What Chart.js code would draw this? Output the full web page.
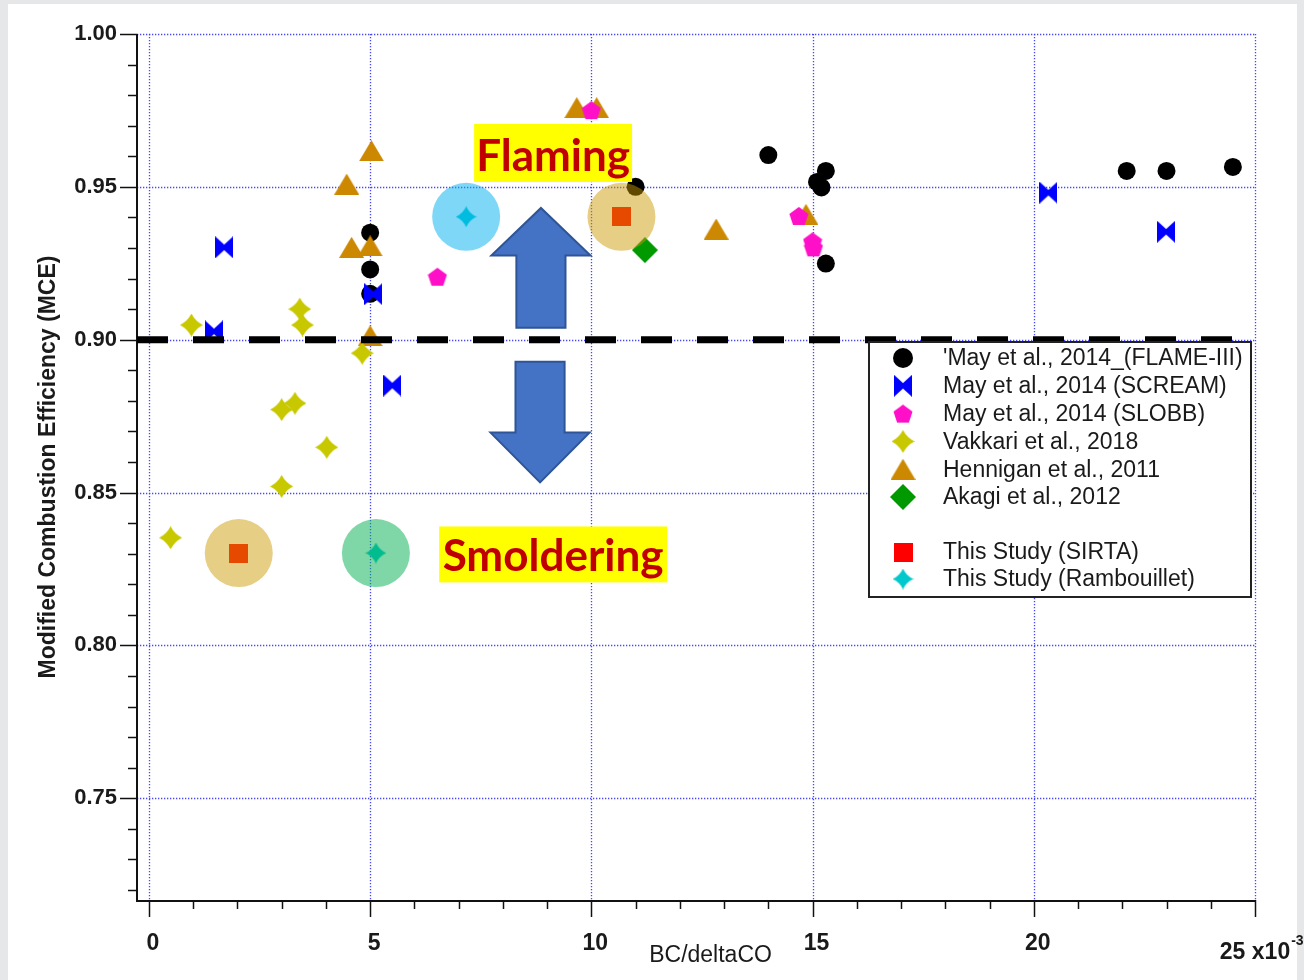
<!DOCTYPE html>
<html>
<head>
<meta charset="utf-8">
<title>MCE vs BC/deltaCO</title>
<script src="https://cdn.jsdelivr.net/npm/chart.js@4.4.1/dist/chart.umd.min.js"></script>
<style>
  html, body { margin: 0; padding: 0; background: #e6e7e9; }
  canvas { display: block; }
</style>
</head>
<body>
<canvas id="chart" width="1304" height="980"></canvas>
<script>
// ---- axis ranges and tick labels ----
const xMin = -0.27, xMax = 25;
const yMin = 0.7167, yMax = 1.0;
const xTickValues = [0, 5, 10, 15, 20, 25];
const yTickValues = [0.75, 0.80, 0.85, 0.90, 0.95, 1.00];

// ---- series (BC/deltaCO in units of 1e-3, MCE) ----
const flameX = [5.0, 5.0, 5.0, 11.0, 14.0, 15.3, 15.1, 15.2, 15.3, 22.1, 23.0, 24.5];
const flameY = [0.935, 0.923, 0.915, 0.950, 0.9604, 0.9552, 0.9516, 0.9498, 0.9249, 0.9552, 0.9552, 0.9565];

const screamX = [1.70, 1.47, 5.07, 5.50, 20.33, 22.99];
const screamY = [0.9302, 0.9027, 0.9149, 0.8850, 0.9481, 0.9353];

const slobbX = [10.0, 6.52, 14.69, 15.0, 15.02];
const slobbY = [0.9751, 0.9206, 0.9405, 0.9322, 0.9302];

const vakkariX = [0.49, 0.96, 3.41, 3.47, 3.0, 3.30, 4.02, 3.0, 4.82];
const vakkariY = [0.8352, 0.9048, 0.9100, 0.9048, 0.8771, 0.8792, 0.8648, 0.8520, 0.8956];

const henniganX = [9.67, 10.12, 5.03, 4.47, 4.58, 5.0, 5.0, 12.82, 14.85];
const henniganY = [0.9759, 0.9759, 0.9618, 0.9509, 0.9302, 0.9307, 0.9013, 0.9362, 0.9410];

const akagiX = [11.21];
const akagiY = [0.9293];

const sirtaX = [10.68, 2.03];
const sirtaY = [0.9402, 0.8302];

const rambouilletX = [7.17, 5.13];
const rambouilletY = [0.9402, 0.8302];

// flaming / smoldering threshold
const thresholdX = [-0.27, 24.5];
const thresholdY = 0.90;

const legendLabels = [
  "'May et al., 2014_(FLAME-III)",
  'May et al., 2014 (SCREAM)',
  'May et al., 2014 (SLOBB)',
  'Vakkari et al., 2018',
  'Hennigan et al., 2011',
  'Akagi et al., 2012',
  'This Study (SIRTA)',
  'This Study (Rambouillet)'
];

const pts = (xs, ys) => xs.map((x, i) => ({ x: x, y: ys[i] }));

// ---- marker shapes ----
function markerCanvas(w, h, paint) {
  const c = document.createElement('canvas');
  c.width = w; c.height = h;
  paint(c.getContext('2d'), w, h);
  return c;
}
function bowtie(color, w, h) {
  return markerCanvas(w, h, (g) => {
    g.fillStyle = color;
    g.beginPath();
    g.moveTo(0, 0); g.lineTo(w / 2, h * 0.38); g.lineTo(w, 0);
    g.lineTo(w, h); g.lineTo(w / 2, h * 0.62); g.lineTo(0, h);
    g.closePath(); g.fill();
  });
}
function star4(color, s, k) {
  return markerCanvas(s, s, (g) => {
    const c = s / 2, d = s * k;
    g.fillStyle = color;
    g.beginPath();
    g.moveTo(c, 0);
    g.quadraticCurveTo(c + d, c - d, s, c);
    g.quadraticCurveTo(c + d, c + d, c, s);
    g.quadraticCurveTo(c - d, c + d, 0, c);
    g.quadraticCurveTo(c - d, c - d, c, 0);
    g.closePath(); g.fill();
  });
}
function pentagon(color, s) {
  return markerCanvas(s, s, (g) => {
    const r = s / 2, cx = s / 2, cy = s / 2 + 1;
    g.fillStyle = color;
    g.beginPath();
    for (let i = 0; i < 5; i++) {
      const a = -Math.PI / 2 + i * 2 * Math.PI / 5;
      const px = cx + r * Math.cos(a), py = cy + r * Math.sin(a);
      if (i === 0) g.moveTo(px, py); else g.lineTo(px, py);
    }
    g.closePath(); g.fill();
  });
}
function triangle(color, w, h) {
  return markerCanvas(w, h, (g) => {
    g.fillStyle = color;
    g.beginPath();
    g.moveTo(w / 2, 0); g.lineTo(w, h); g.lineTo(0, h);
    g.closePath(); g.fill();
  });
}
function diamond(color, s) {
  return markerCanvas(s, s, (g) => {
    g.fillStyle = color;
    g.beginPath();
    g.moveTo(s / 2, 0); g.lineTo(s, s / 2); g.lineTo(s / 2, s); g.lineTo(0, s / 2);
    g.closePath(); g.fill();
  });
}
function square(color, s) {
  return markerCanvas(s, s, (g) => { g.fillStyle = color; g.fillRect(0, 0, s, s); });
}

const COLORS = {
  flame: '#000000', scream: '#0000ff', slobb: '#ff10c8', vakkari: '#c8c800',
  hennigan: '#cc8800', akagi: '#009a00', sirta: '#ff0000', ramb: '#00c8cc'
};

const mk = {
  scream: bowtie(COLORS.scream, 18, 22),
  slobb: pentagon(COLORS.slobb, 20),
  vakkari: star4(COLORS.vakkari, 23, 0.17),
  hennigan: triangle(COLORS.hennigan, 25, 21),
  akagi: diamond(COLORS.akagi, 26),
  sirta: square(COLORS.sirta, 19),
  ramb: star4(COLORS.ramb, 21, 0.15)
};

const haloColors = ['rgba(202,152,0,0.48)', 'rgba(202,152,0,0.48)', 'rgba(0,176,240,0.5)', 'rgba(0,176,80,0.5)'];

// ---- drawing helpers (plugins) ----
const FONT = '"Liberation Sans", Arial, Helvetica, sans-serif';

const pagePlugin = {
  id: 'page',
  beforeDraw(chart) {
    const ctx = chart.ctx;
    ctx.save();
    ctx.fillStyle = '#e6e7e9';
    ctx.fillRect(0, 0, chart.width, chart.height);
    ctx.fillStyle = '#ffffff';
    ctx.fillRect(8, 4, chart.width - 15, chart.height - 4);
    ctx.restore();
  }
};

const axesPlugin = {
  id: 'axesFrame',
  beforeDatasetsDraw(chart) {
    const ctx = chart.ctx, xs = chart.scales.x, ys = chart.scales.y, a = chart.chartArea;
    ctx.save();
    // dotted grid
    ctx.strokeStyle = 'rgba(60,60,255,0.95)';
    ctx.lineWidth = 1.3;
    ctx.setLineDash([1.3, 1.7]);
    xTickValues.forEach(v => {
      const px = Math.round(xs.getPixelForValue(v)) + 0.5;
      ctx.beginPath(); ctx.moveTo(px, a.top); ctx.lineTo(px, a.bottom); ctx.stroke();
    });
    yTickValues.forEach(v => {
      const py = Math.round(ys.getPixelForValue(v)) + 0.5;
      ctx.beginPath(); ctx.moveTo(a.left, py); ctx.lineTo(a.right, py); ctx.stroke();
    });
    ctx.setLineDash([]);
    // axis lines
    ctx.strokeStyle = '#111';
    ctx.lineWidth = 2;
    ctx.beginPath();
    ctx.moveTo(a.left, a.top); ctx.lineTo(a.left, a.bottom + 1); ctx.lineTo(a.right, a.bottom + 1);
    ctx.stroke();
    // tick marks: majors longer than minors
    ctx.lineWidth = 1.5;
    for (let k = 72; k <= 100; k++) {
      const py = Math.round(ys.getPixelForValue(k / 100)) + 0.5;
      const len = k % 5 === 0 ? 17 : 9;
      ctx.beginPath(); ctx.moveTo(a.left - len, py); ctx.lineTo(a.left, py); ctx.stroke();
    }
    for (let k = 0; k <= 25; k++) {
      const px = Math.round(xs.getPixelForValue(k)) + 0.5;
      const len = k % 5 === 0 ? 17 : 9;
      ctx.beginPath(); ctx.moveTo(px, a.bottom); ctx.lineTo(px, a.bottom + len); ctx.stroke();
    }
    ctx.restore();
  }
};

// flaming / smoldering annotations
const arrows = [
  { x: 8.86, from: 0.9039, neck: 0.9275, to: 0.9431 },
  { x: 8.84, from: 0.8928, neck: 0.8696, to: 0.8533 }
];
const arrowShaftHalf = 0.555, arrowHeadHalf = 1.12;
const boxes = [
  { text: 'Flaming', x0: 7.35, x1: 10.92, y0: 0.9516, y1: 0.9706 },
  { text: 'Smoldering', x0: 6.56, x1: 11.71, y0: 0.8206, y1: 0.8389 }
];

const annotationPlugin = {
  id: 'annotations',
  afterDatasetsDraw(chart) {
    const ctx = chart.ctx, xs = chart.scales.x, ys = chart.scales.y;
    ctx.save();
    arrows.forEach(ar => {
      const cx = xs.getPixelForValue(ar.x);
      const sh = xs.getPixelForValue(ar.x + arrowShaftHalf) - cx;
      const hh = xs.getPixelForValue(ar.x + arrowHeadHalf) - cx;
      const yF = ys.getPixelForValue(ar.from), yN = ys.getPixelForValue(ar.neck), yT = ys.getPixelForValue(ar.to);
      ctx.beginPath();
      ctx.moveTo(cx - sh, yF); ctx.lineTo(cx - sh, yN); ctx.lineTo(cx - hh, yN);
      ctx.lineTo(cx, yT);
      ctx.lineTo(cx + hh, yN); ctx.lineTo(cx + sh, yN); ctx.lineTo(cx + sh, yF);
      ctx.closePath();
      ctx.fillStyle = '#4472c4';
      ctx.fill();
      ctx.strokeStyle = '#2f5597';
      ctx.lineWidth = 2;
      ctx.lineJoin = 'miter';
      ctx.stroke();
    });
    boxes.forEach(b => {
      const x0 = xs.getPixelForValue(b.x0), x1 = xs.getPixelForValue(b.x1);
      const yTop = ys.getPixelForValue(b.y1), yBot = ys.getPixelForValue(b.y0);
      ctx.fillStyle = '#ffff00';
      ctx.fillRect(x0, yTop, x1 - x0, yBot - yTop);
      ctx.fillStyle = '#c00000';
      ctx.font = 'bold 44px Lato, "Open Sans", sans-serif';
      ctx.textAlign = 'center';
      ctx.textBaseline = 'alphabetic';
      ctx.fillText(b.text, (x0 + x1) / 2, yBot - 11);
    });
    ctx.restore();
  }
};

const legendMarkers = [
  { style: 'circle', color: COLORS.flame },
  { img: mk.scream }, { img: mk.slobb }, { img: mk.vakkari },
  { img: mk.hennigan }, { img: mk.akagi },
  null,
  { img: mk.sirta }, { img: mk.ramb }
];

const textPlugin = {
  id: 'textAndLegend',
  afterDraw(chart) {
    const ctx = chart.ctx, xs = chart.scales.x, a = chart.chartArea;
    ctx.save();
    // y-axis title
    ctx.fillStyle = '#1a1a1a';
    ctx.font = 'bold 23px ' + FONT;
    ctx.textAlign = 'center';
    ctx.textBaseline = 'middle';
    ctx.translate(49, (a.top + a.bottom) / 2);
    ctx.rotate(-Math.PI / 2);
    ctx.fillText('Modified Combustion Efficiency (MCE)', 0, 0);
    ctx.restore();

    ctx.save();
    // x-axis title
    ctx.fillStyle = '#1a1a1a';
    ctx.font = '23px ' + FONT;
    ctx.textAlign = 'center';
    ctx.textBaseline = 'alphabetic';
    ctx.fillText('BC/deltaCO', a.left + (a.right - a.left) * 0.513, 962);
    // last x tick with the exponent
    const p25 = xs.getPixelForValue(25);
    ctx.font = 'bold 23px ' + FONT;
    const main = '25 x10';
    const w = ctx.measureText(main).width;
    ctx.textAlign = 'left';
    ctx.fillText(main, p25 - w / 2, 959);
    ctx.font = 'bold 14px ' + FONT;
    ctx.fillText('-3', p25 + w / 2 + 1, 945);

    // legend box
    const bx = 869, by = 342, bw = 382, bh = 255;
    ctx.fillStyle = '#ffffff';
    ctx.fillRect(bx, by, bw, bh);
    ctx.strokeStyle = '#222';
    ctx.lineWidth = 2;
    ctx.strokeRect(bx, by, bw, bh);
    ctx.font = '23px ' + FONT;
    ctx.textBaseline = 'middle';
    ctx.textAlign = 'left';
    let li = 0;
    legendMarkers.forEach((m, row) => {
      if (!m) return;
      const cy = row >= 7 ? 552 + (row - 7) * 27 : 358 + row * 27.8;
      if (m.style === 'circle') {
        ctx.fillStyle = m.color;
        ctx.beginPath(); ctx.arc(903, cy, 10, 0, Math.PI * 2); ctx.fill();
      } else {
        ctx.drawImage(m.img, 903 - m.img.width / 2, cy - m.img.height / 2);
      }
      ctx.fillStyle = '#1a1a1a';
      ctx.fillText(legendLabels[li], 943, cy + 1);
      li++;
    });
    ctx.restore();
  }
};

// ---- chart ----
const chart = new Chart(document.getElementById('chart'), {
  type: 'scatter',
  data: {
    datasets: [
      { label: legendLabels[0], data: pts(flameX, flameY), pointStyle: 'circle', pointRadius: 9,
        backgroundColor: COLORS.flame, borderWidth: 0, order: 10 },
      { label: legendLabels[4], data: pts(henniganX, henniganY), pointStyle: mk.hennigan, pointRadius: 10, order: 9 },
      { label: legendLabels[1], data: pts(screamX, screamY), pointStyle: mk.scream, pointRadius: 10, order: 8 },
      { label: legendLabels[2], data: pts(slobbX, slobbY), pointStyle: mk.slobb, pointRadius: 10, order: 7 },
      { label: legendLabels[3], data: pts(vakkariX, vakkariY), pointStyle: mk.vakkari, pointRadius: 10, order: 6 },
      { label: legendLabels[5], data: pts(akagiX, akagiY), pointStyle: mk.akagi, pointRadius: 10, order: 5 },
      { label: legendLabels[6], data: pts(sirtaX, sirtaY), pointStyle: mk.sirta, pointRadius: 10, order: 4 },
      { label: legendLabels[7], data: pts(rambouilletX, rambouilletY), pointStyle: mk.ramb, pointRadius: 10, order: 3 },
      { label: 'highlight', data: pts(sirtaX.concat(rambouilletX), sirtaY.concat(rambouilletY)),
        pointStyle: 'circle', pointRadius: 34, backgroundColor: haloColors, borderWidth: 0, order: 2 },
      { label: 'MCE = 0.90', data: thresholdX.map(x => ({ x: x, y: thresholdY })), showLine: true,
        borderColor: '#000', borderWidth: 7, borderDash: [31, 25], borderCapStyle: 'butt',
        pointRadius: 0, order: 1 }
    ]
  },
  options: {
    responsive: false,
    animation: false,
    devicePixelRatio: 1,
    events: [],
    layout: { padding: { left: 0, top: 33, right: 49, bottom: 0 } },
    plugins: { legend: { display: false }, tooltip: { enabled: false } },
    scales: {
      x: {
        type: 'linear', min: xMin, max: xMax,
        afterBuildTicks: s => { s.ticks = xTickValues.map(v => ({ value: v })); },
        afterFit: s => { s.height = 80; },
        grid: { display: false, drawTicks: false },
        border: { display: false },
        ticks: {
          autoSkip: false, maxRotation: 0, padding: 30, labelOffset: 4,
          font: { family: FONT, weight: 'bold', size: 23 }, color: '#1a1a1a',
          callback: v => (v === 25 ? '' : String(v))
        }
      },
      y: {
        type: 'linear', min: yMin, max: yMax,
        afterBuildTicks: s => { s.ticks = yTickValues.map(v => ({ value: v })); },
        afterFit: s => { s.width = 137; },
        grid: { display: false, drawTicks: false },
        border: { display: false },
        ticks: {
          autoSkip: false, padding: 20,
          font: { family: FONT, weight: 'bold', size: 22 }, color: '#1a1a1a',
          callback: v => v.toFixed(2)
        }
      }
    }
  },
  plugins: [pagePlugin, axesPlugin, annotationPlugin, textPlugin]
});
</script>
</body>
</html>
